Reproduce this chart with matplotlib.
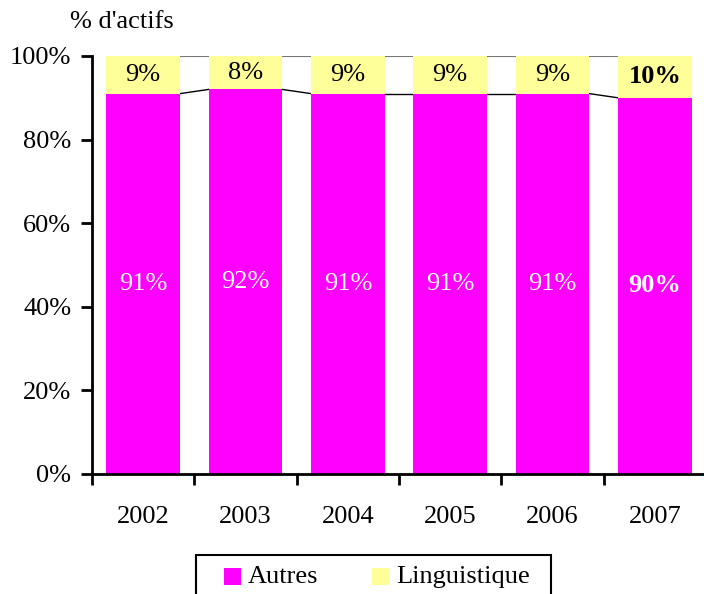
import matplotlib
matplotlib.use("Agg")
import matplotlib.pyplot as plt
from matplotlib.patches import Rectangle

years = ["2002", "2003", "2004", "2005", "2006", "2007"]
autres = [91, 92, 91, 91, 91, 90]
linguistique = [9, 8, 9, 9, 9, 10]
yticks = [0, 20, 40, 60, 80, 100]
series_names = ["Autres", "Linguistique"]

plt.rcParams['font.family'] = ['Liberation Serif', 'DejaVu Serif']
W, H = 704, 594
fig = plt.figure(figsize=(W/100, H/100), dpi=100)
ax = fig.add_axes([92/W, 1-474/H, 614/W, 418/H])

magenta = "#FF00FF"
yellow = "#FFFF99"
fs = 19
w = 0.72
x = list(range(len(years)))
ax.bar(x, autres, width=w, color=magenta, label=series_names[0], zorder=2)
ax.bar(x, linguistique, width=w, bottom=autres, color=yellow, label=series_names[1], zorder=2)

# series lines
for i in range(len(years) - 1):
    ax.plot([i + w/2, i + 1 - w/2], [autres[i], autres[i+1]], color="black", lw=1, zorder=1)
    ax.plot([i + w/2, i + 1 - w/2], [autres[i] + linguistique[i], autres[i+1] + linguistique[i+1]],
            color="#777777", lw=1.5, zorder=1)

for i in range(len(years)):
    bold = "bold" if i == len(years) - 1 else "normal"
    ax.text(i, autres[i]/2, f"{autres[i]}%", ha="center", va="center", color="white",
            fontsize=fs, fontweight=bold)
    ax.text(i, autres[i] + linguistique[i]/2, f"{linguistique[i]}%", ha="center", va="center",
            color="black", fontsize=fs, fontweight=bold)

ax.set_xlim(-0.5, len(years) - 0.5)
ax.set_ylim(0, 100)
ax.set_yticks(yticks)
ax.set_yticklabels([f"{v}%" for v in yticks], fontsize=fs)
ax.set_xticks([i - 0.5 for i in range(len(years) + 1)])
ax.set_xticklabels([])
ax.set_xticks(x, minor=True)
ax.set_xticklabels(years, minor=True, fontsize=fs)
ax.tick_params(axis='x', which='minor', length=0, pad=23)
ax.tick_params(axis='x', which='major', direction='out', length=8, width=2)
ax.tick_params(axis='y', direction='out', length=8, width=2, pad=7)
for s in ["top", "right"]:
    ax.spines[s].set_visible(False)
ax.spines["left"].set_linewidth(2)
ax.spines["bottom"].set_linewidth(2)

fig.text(70/W, 1-22/H, "% d'actifs", fontsize=fs, ha="left", va="center")

# legend box (manual, matching reference layout)
fig.add_artist(Rectangle((196/W, 1-600/H), (551-196)/W, 45/H, transform=fig.transFigure,
                         facecolor="white", edgecolor="black", lw=1.5))
for col, name, sx, tx in [(magenta, series_names[0], 224, 248), (yellow, series_names[1], 372, 396)]:
    fig.add_artist(Rectangle((sx/W, 1-585/H), 17/W, 17/H, transform=fig.transFigure,
                             facecolor=col, edgecolor="none"))
    fig.text(tx/W, 1-577/H, name, fontsize=fs, ha="left", va="center")

fig.savefig("out.png", dpi=100)
